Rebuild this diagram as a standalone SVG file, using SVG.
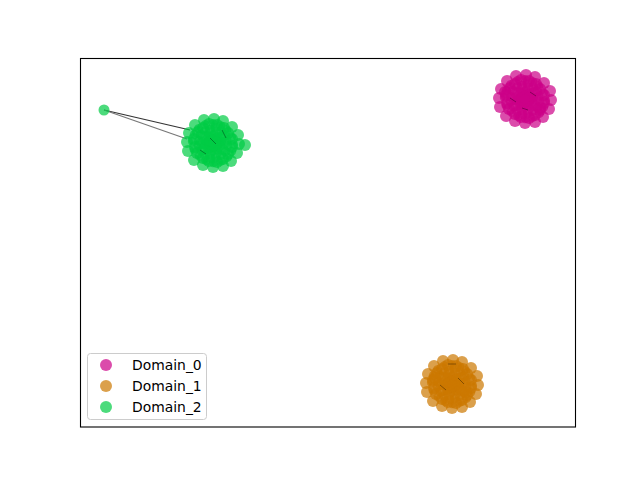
<svg xmlns="http://www.w3.org/2000/svg" xmlns:xlink="http://www.w3.org/1999/xlink" width="640" height="480" viewBox="0 0 640 480">
<style>
#blob circle,.n circle,.lm{opacity:0.7}
.n{stroke:none}
.d0{fill:#cc0088}
.d1{fill:#cc7700}
.d2{fill:#00cc44}
.lg{font-family:"DejaVu Sans",sans-serif;font-size:13.9px;fill:#000}
.ie{stroke:#000;stroke-width:1;opacity:0.35}
</style>
<defs>
<g id="blob">
<circle cx="26" cy="1" r="6"/><circle cx="24" cy="10" r="6"/><circle cx="18" cy="18" r="6"/><circle cx="10" cy="23" r="6"/><circle cx="0" cy="24" r="6"/><circle cx="-10" cy="22" r="6"/><circle cx="-19" cy="17" r="6"/><circle cx="-25" cy="8" r="6"/><circle cx="-26" cy="-1" r="6"/><circle cx="-24" cy="-10" r="6"/><circle cx="-18" cy="-18" r="6"/><circle cx="-9" cy="-23" r="6"/><circle cx="1" cy="-24" r="6"/><circle cx="10" cy="-22" r="6"/><circle cx="19" cy="-16" r="6"/><circle cx="25" cy="-8" r="6"/>
<circle cx="19" cy="4" r="6"/><circle cx="15" cy="11" r="6"/><circle cx="10" cy="16" r="6"/><circle cx="4" cy="19" r="6"/><circle cx="-4" cy="18" r="6"/><circle cx="-10" cy="15" r="6"/><circle cx="-16" cy="10" r="6"/><circle cx="-18" cy="4" r="6"/><circle cx="-19" cy="-4" r="6"/><circle cx="-15" cy="-11" r="6"/><circle cx="-10" cy="-15" r="6"/><circle cx="-4" cy="-19" r="6"/><circle cx="4" cy="-18" r="6"/><circle cx="11" cy="-15" r="6"/><circle cx="15" cy="-10" r="6"/><circle cx="19" cy="-4" r="6"/>
<circle cx="11" cy="0" r="6"/><circle cx="9" cy="6" r="6"/><circle cx="3" cy="10" r="6"/><circle cx="-3" cy="10" r="6"/><circle cx="-9" cy="6" r="6"/><circle cx="-11" cy="0" r="6"/><circle cx="-9" cy="-6" r="6"/><circle cx="-3" cy="-10" r="6"/><circle cx="3" cy="-10" r="6"/><circle cx="9" cy="-6" r="6"/>
<circle cx="5" cy="0" r="6"/><circle cx="2" cy="4" r="6"/><circle cx="-3" cy="4" r="6"/><circle cx="-5" cy="0" r="6"/><circle cx="-2" cy="-4" r="6"/><circle cx="3" cy="-4" r="6"/><circle cx="0" cy="0" r="6"/>
</g>
<g id="cluster">
<use xlink:href="#blob"/>
<use xlink:href="#blob" transform="rotate(22) scale(0.78)"/>
</g>
</defs>
<rect width="640" height="480" fill="#fff"/>
<g id="connectors" fill="none">
<line x1="104" y1="110" x2="190" y2="130" stroke="#333" stroke-width="1.2"/>
<line x1="104" y1="110" x2="187" y2="139" stroke="#777" stroke-width="1.2"/>
</g>
<g id="domain0" class="n d0">
<use xlink:href="#cluster" transform="translate(525 99)"/>
<circle cx="505" cy="92" r="6"/><circle cx="540" cy="108" r="6"/>
<line class="ie" x1="510" y1="98" x2="516" y2="102"/>
<line class="ie" x1="530" y1="92" x2="536" y2="96"/>
<line class="ie" x1="522" y1="108" x2="528" y2="110"/>
</g>
<g id="domain1" class="n d1">
<use xlink:href="#cluster" transform="translate(452 384)"/>
<circle cx="435" cy="378" r="6"/><circle cx="466" cy="392" r="6"/>
<line class="ie" x1="448" y1="364" x2="456" y2="364"/>
<line class="ie" x1="440" y1="385" x2="446" y2="390"/>
<line class="ie" x1="458" y1="378" x2="464" y2="384"/>
</g>
<g id="domain2" class="n d2">
<use xlink:href="#cluster" transform="translate(213 143)"/>
<circle cx="245" cy="145" r="6"/>
<circle cx="104" cy="110" r="5.5"/>
<line class="ie" x1="210" y1="138" x2="216" y2="144"/>
<line class="ie" x1="222" y1="130" x2="226" y2="138"/>
<line class="ie" x1="200" y1="150" x2="206" y2="154"/>
</g>
<rect x="80.5" y="58.5" width="495" height="368.5" fill="none" stroke="#000" stroke-width="1.1"/>
<g id="legend">
<rect x="87.5" y="353.5" width="119" height="66" rx="3" fill="#fff" fill-opacity="0.8" stroke="#ccc"/>
<circle class="lm" cx="106" cy="365" r="6" fill="#cc0088"/>
<circle class="lm" cx="106" cy="386" r="6" fill="#cc7700"/>
<circle class="lm" cx="106" cy="407" r="6" fill="#00cc44"/>
<text class="lg" x="132" y="370">Domain_0</text>
<text class="lg" x="132" y="391">Domain_1</text>
<text class="lg" x="132" y="412">Domain_2</text>
</g>
</svg>
